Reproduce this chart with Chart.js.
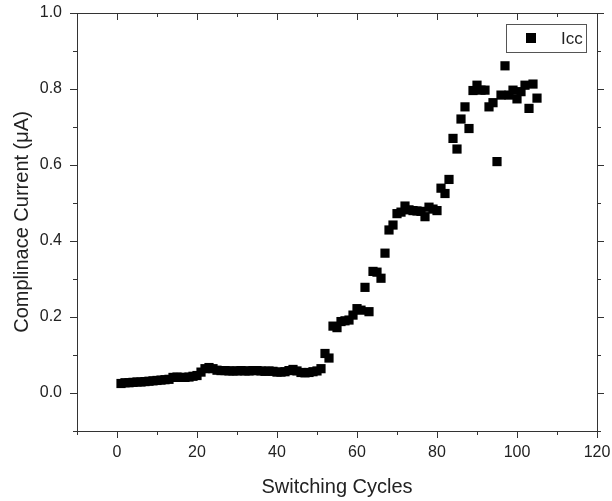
<!DOCTYPE html>
<html>
<head>
<meta charset="utf-8">
<script src="https://cdn.jsdelivr.net/npm/chart.js@4.4.0/dist/chart.umd.min.js"></script>
<style>
  html, body { margin: 0; padding: 0; background: #fff; }
  #wrap { width: 612px; height: 501px; }
</style>
</head>
<body>
<div id="wrap"><canvas id="chart"></canvas></div>
<script>
// DATA

var cycles = [
    1, 2, 3, 4, 5, 6, 7, 8, 9, 10, 11, 12, 13, 14, 15, 16, 17, 18, 19, 20,
    21, 22, 23, 24, 25, 26, 27, 28, 29, 30, 31, 32, 33, 34, 35, 36, 37, 38, 39, 40,
    41, 42, 43, 44, 45, 46, 47, 48, 49, 50, 51, 52, 53, 54, 55, 56, 57, 58, 59, 60,
    61, 62, 63, 64, 65, 66, 67, 68, 69, 70, 71, 72, 73, 74, 75, 76, 77, 78, 79, 80,
    81, 82, 83, 84, 85, 86, 87, 88, 89, 90, 91, 92, 93, 94, 95, 96, 97, 98, 99, 100,
    101, 102, 103, 104, 105
];

var icc = [
    0.025, 0.027, 0.027, 0.028, 0.029, 0.029, 0.030, 0.031, 0.032, 0.033,
    0.034, 0.035, 0.036, 0.041, 0.042, 0.041, 0.041, 0.042, 0.044, 0.046,
    0.055, 0.064, 0.067, 0.064, 0.060, 0.059, 0.059, 0.058, 0.058, 0.058,
    0.059, 0.058, 0.058, 0.059, 0.059, 0.058, 0.057, 0.058, 0.057, 0.055,
    0.055, 0.056, 0.059, 0.062, 0.058, 0.054, 0.053, 0.054, 0.056, 0.058,
    0.064, 0.104, 0.092, 0.176, 0.172, 0.188, 0.190, 0.192, 0.205, 0.222,
    0.218, 0.278, 0.214, 0.320, 0.318, 0.302, 0.368, 0.429, 0.442, 0.472,
    0.476, 0.492, 0.482, 0.480, 0.479, 0.478, 0.464, 0.489, 0.484, 0.480,
    0.539, 0.525, 0.562, 0.670, 0.642, 0.721, 0.753, 0.696, 0.796, 0.810,
    0.797, 0.797, 0.753, 0.764, 0.609, 0.784, 0.861, 0.784, 0.797, 0.774,
    0.793, 0.810, 0.749, 0.813, 0.776
];

// tick labels shown on the axes
var xTickLabels = [0, 20, 40, 60, 80, 100, 120];
var yTickLabels = ['0.0', '0.2', '0.4', '0.6', '0.8', '1.0'];

var seriesName = 'Icc';
var textColor = '#222';
var axisColor = '#333';

var points = cycles.map(function (c, i) { return { x: c, y: icc[i] }; });

// frame + tick marks like the Origin plot (major long, minor short)
var axisFrame = {
    id: 'axisFrame',
    afterDatasetsDraw: function (chart) {
        var ctx = chart.ctx;
        var a = chart.chartArea;
        var xs = chart.scales.x;
        var ys = chart.scales.y;
        ctx.save();
        ctx.strokeStyle = axisColor;
        ctx.lineWidth = 1;
        ctx.strokeRect(Math.round(a.left) + 0.5, Math.round(a.top) + 0.5,
            Math.round(a.right - a.left), Math.round(a.bottom - a.top));
        ctx.beginPath();
        xs.ticks.forEach(function (t) {
            var px = Math.round(xs.getPixelForValue(t.value)) + 0.5;
            var len = Math.round(t.value) % 20 === 0 ? 7 : 4;
            ctx.moveTo(px, a.bottom); ctx.lineTo(px, a.bottom + len);  // bottom, outward
            ctx.moveTo(px, a.top); ctx.lineTo(px, a.top + len);        // top, inward
        });
        ys.ticks.forEach(function (t) {
            var py = Math.round(ys.getPixelForValue(t.value)) + 0.5;
            var len = Math.round(t.value * 10) % 2 === 0 ? 7 : 4;
            ctx.moveTo(a.left, py); ctx.lineTo(a.left - len, py);      // left, outward
            ctx.moveTo(a.right, py); ctx.lineTo(a.right + len, py);    // right, outward
        });
        ctx.stroke();
        ctx.restore();
    }
};

// legend box in the upper right corner of the plot
var boxLegend = {
    id: 'boxLegend',
    afterDraw: function (chart) {
        var ctx = chart.ctx;
        var a = chart.chartArea;
        var bx = a.right - 91, by = a.top + 11, bw = 80, bh = 28;
        ctx.save();
        ctx.strokeStyle = '#555';
        ctx.lineWidth = 1;
        ctx.strokeRect(bx + 0.5, by + 0.5, bw, bh);
        ctx.fillStyle = '#000';
        ctx.fillRect(bx + 20, by + 9, 10, 10);
        ctx.fillStyle = textColor;
        ctx.font = '17px "Liberation Sans", Arial, sans-serif';
        ctx.textBaseline = 'middle';
        ctx.fillText(seriesName, bx + 55, by + 15);
        ctx.restore();
    }
};

var ctx = document.getElementById('chart').getContext('2d');
var chart = new Chart(ctx, {
    type: 'scatter',
    data: {
        datasets: [{
            label: seriesName,
            data: points,
            pointStyle: 'rect',
            pointRadius: 6.5,
            pointHoverRadius: 6.5,
            pointBorderWidth: 0,
            backgroundColor: '#000',
            borderColor: '#000'
        }]
    },
    options: {
        responsive: true,
        maintainAspectRatio: false,
        animation: false,
        layout: {
            padding: { top: 13, right: 15, left: 0, bottom: 0 }
        },
        plugins: {
            legend: { display: false },
            tooltip: { enabled: false }
        },
        scales: {
            x: {
                type: 'linear',
                min: -10,
                max: 120,
                afterFit: function (scale) {
                    scale.height = 70;
                    scale.paddingLeft = 0;
                    scale.paddingRight = 0;
                },
                grid: { display: false, drawTicks: false },
                border: { display: false },
                ticks: {
                    stepSize: 10,
                    padding: 12,
                    color: textColor,
                    font: { family: '"Liberation Sans", Arial, sans-serif', size: 16 },
                    maxRotation: 0,
                    autoSkip: false,
                    callback: function (v) {
                        return xTickLabels.indexOf(Math.round(v)) >= 0 ? String(Math.round(v)) : '';
                    }
                },
                title: {
                    display: true,
                    text: 'Switching Cycles',
                    color: textColor,
                    font: { family: '"Liberation Sans", Arial, sans-serif', size: 20 },
                    padding: { top: 0, bottom: 2 }
                }
            },
            y: {
                type: 'linear',
                min: -0.1,
                max: 1.0,
                afterFit: function (scale) {
                    scale.width = 77;
                    scale.paddingTop = 0;
                    scale.paddingBottom = 0;
                },
                grid: { display: false, drawTicks: false },
                border: { display: false },
                ticks: {
                    stepSize: 0.1,
                    padding: 15,
                    color: textColor,
                    font: { family: '"Liberation Sans", Arial, sans-serif', size: 16 },
                    autoSkip: false,
                    callback: function (v) {
                        var s = v.toFixed(1);
                        return yTickLabels.indexOf(s) >= 0 ? s : '';
                    }
                },
                title: {
                    display: true,
                    text: 'Complinace Current (μA)',
                    color: textColor,
                    font: { family: '"Liberation Sans", Arial, sans-serif', size: 20 },
                    padding: { top: 10, bottom: 0 }
                }
            }
        }
    },
    plugins: [axisFrame, boxLegend]
});
</script>
</body>
</html>
